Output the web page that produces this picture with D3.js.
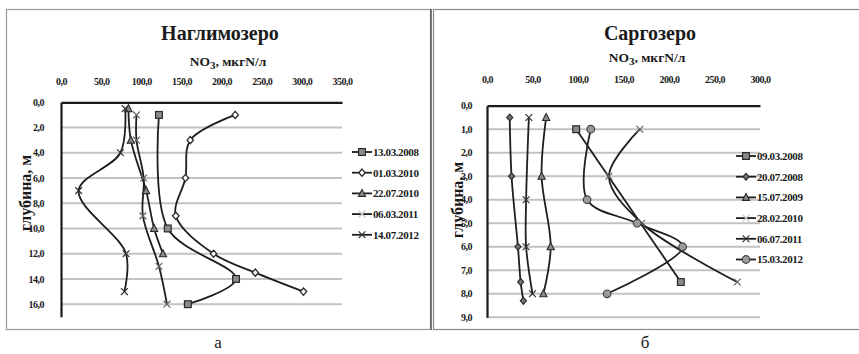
<!DOCTYPE html>
<html>
<head>
<meta charset="utf-8">
<script src="https://cdn.jsdelivr.net/npm/d3@7"></script>
<style>
  body { margin: 0; background: #fff; }
  svg { display: block; }
</style>
</head>
<body>
<svg id="chart" width="859" height="354"></svg>
<script>
// Наглимозеро: depth (m) and NO3 (мкгN/л)
const naglDepth_130308 = [1, 10, 14, 16];
const naglValue_130308 = [122, 133, 218, 158];
const naglDepth_010310 = [1, 3, 6, 9, 12, 13.5, 15];
const naglValue_010310 = [217, 161, 155, 143, 190, 242, 302];
const naglDepth_220710 = [0.5, 3, 7, 10, 12];
const naglValue_220710 = [84, 87, 106, 116, 127];
const naglDepth_060311 = [1, 3, 6, 9, 13, 16];
const naglValue_060311 = [94, 94, 103, 102, 122, 132];
const naglDepth_140712 = [0.5, 4, 7, 12, 15];
const naglValue_140712 = [80, 74, 22, 81, 79];

// Саргозеро
const sargDepth_090308 = [1, 7.5];
const sargValue_090308 = [98, 213];
const sargDepth_200708 = [0.5, 3, 6, 7.5, 8.3];
const sargValue_200708 = [25, 27, 34, 37, 40];
const sargDepth_150709 = [0.5, 3, 6, 8];
const sargValue_150709 = [65, 60, 70, 62];
const sargDepth_280210 = [1, 3, 5, 7.5];
const sargValue_280210 = [168, 134, 170, 275];
const sargDepth_060711 = [0.5, 4, 6, 8];
const sargValue_060711 = [46, 43, 43, 50];
const sargDepth_150312 = [1, 4, 5, 6, 8];
const sargValue_150312 = [114, 110, 165, 215, 132];

const naglXTicks = [0, 50, 100, 150, 200, 250, 300, 350];
const naglYTicks = [0, 2, 4, 6, 8, 10, 12, 14, 16];
const sargXTicks = [0, 50, 100, 150, 200, 250, 300];
const sargYTicks = [0, 1, 2, 3, 4, 5, 6, 7, 8, 9];

const SERIF = "'Liberation Serif', 'Times New Roman', serif";
const zip = (ds, vs) => ds.map((d, i) => ({ depth: d, value: vs[i] }));
const fmt = (v) => d3.format(".1f")(v).replace(".", ",");

const svg = d3.select("#chart");

// panel frames
svg.append("rect").attr("x", 6.5).attr("y", 9.5).attr("width", 424).attr("height", 320)
  .attr("fill", "none").attr("stroke", "#9a9a9a").attr("stroke-width", 1.2);
svg.append("rect").attr("x", 433.5).attr("y", 9.5).attr("width", 440).attr("height", 320)
  .attr("fill", "none").attr("stroke", "#8a8a8a").attr("stroke-width", 1.2);
svg.append("line").attr("x1", 431).attr("x2", 431).attr("y1", 9).attr("y2", 330)
  .attr("stroke", "#555").attr("stroke-width", 1.5);

function drawMarker(g, type, x, y, legend) {
  const s = 3.4;
  if (type === "square") {
    g.append("rect").attr("x", x - s).attr("y", y - s).attr("width", 2 * s).attr("height", 2 * s)
      .attr("fill", "#8a8a8a").attr("stroke", "#2a2a2a").attr("stroke-width", 1.2);
  } else if (type === "diamond") {
    g.append("path").attr("d", `M${x},${y - 3.6}L${x + 3.2},${y}L${x},${y + 3.6}L${x - 3.2},${y}Z`)
      .attr("fill", "#fff").attr("stroke", "#2a2a2a").attr("stroke-width", 1.3);
  } else if (type === "diamondDark") {
    g.append("path").attr("d", `M${x},${y - 3.4}L${x + 3},${y}L${x},${y + 3.4}L${x - 3},${y}Z`)
      .attr("fill", "#777").attr("stroke", "#2a2a2a").attr("stroke-width", 1.2);
  } else if (type === "triangle") {
    g.append("path").attr("d", `M${x},${y - 4}L${x + 3.6},${y + 3}L${x - 3.6},${y + 3}Z`)
      .attr("fill", "#8a8a8a").attr("stroke", "#2a2a2a").attr("stroke-width", 1.1);
  } else if (type === "circle") {
    g.append("circle").attr("cx", x).attr("cy", y).attr("r", 3.8)
      .attr("fill", "#9a9a9a").attr("stroke", "#444").attr("stroke-width", 1.2);
  } else if (type === "x" || type === "xLight") {
    const c = type === "xLight" ? (legend ? "#c8c8c8" : "#666") : "#333";
    g.append("path").attr("d", `M${x - 3.4},${y - 3.4}L${x + 3.4},${y + 3.4}M${x - 3.4},${y + 3.4}L${x + 3.4},${y - 3.4}`)
      .attr("stroke", c).attr("stroke-width", 1.2);
  }
}

function drawPanel(cfg) {
  const x = d3.scaleLinear().domain(cfg.xDomain).range([cfg.left, cfg.right]);
  const y = d3.scaleLinear().domain(cfg.yDomain).range([cfg.top, cfg.bottom]);
  const g = svg.append("g").style("font-family", SERIF).attr("fill", "#1a1a1a");

  // titles
  g.append("text").attr("x", cfg.titleX).attr("y", 40).attr("text-anchor", "middle")
    .style("font-family", SERIF).attr("font-size", 20).attr("font-weight", "bold").text(cfg.title);
  g.append("text").attr("x", cfg.subX).attr("y", cfg.subY).attr("text-anchor", "middle")
    .style("font-family", SERIF).attr("font-size", 13.5).attr("font-weight", "bold")
    .call((t) => {
      t.append("tspan").text("NO");
      t.append("tspan").attr("font-size", 11).attr("dy", 3).text("3");
      t.append("tspan").attr("dy", -3).text(", мкгN/л");
    });

  // gridlines
  g.append("g").selectAll("line").data(cfg.yTicks.filter((d) => d > 0)).join("line")
    .attr("x1", cfg.left).attr("x2", cfg.right)
    .attr("y1", (d) => y(d)).attr("y2", (d) => y(d))
    .attr("stroke", "#c2c2c2").attr("stroke-width", 2);

  // axes
  const xAxis = g.append("g").attr("transform", `translate(0,${cfg.top})`)
    .call(d3.axisTop(x).tickValues(cfg.xTicks).tickFormat(fmt).tickSize(0).tickPadding(cfg.top - cfg.xLabelY));
  const yAxis = g.append("g").attr("transform", `translate(${cfg.left},0)`)
    .call(d3.axisLeft(y).tickValues(cfg.yTicks).tickFormat(fmt).tickSize(0).tickPadding(cfg.left - cfg.yLabelX));
  [xAxis, yAxis].forEach((a) => {
    a.attr("font-family", null).attr("font-size", null);
    a.select(".domain").attr("stroke", "#1a1a1a").attr("stroke-width", 2.2);
    a.selectAll(".tick text")
      .style("font-family", SERIF).attr("font-size", 10).attr("font-weight", "bold")
      .attr("letter-spacing", -0.5).attr("fill", "#1a1a1a");
  });

  // y title
  g.append("text").attr("transform", `translate(${cfg.yTitleX},${cfg.yTitleY}) rotate(-90)`)
    .attr("text-anchor", "middle").attr("dy", "0.35em")
    .style("font-family", SERIF).attr("font-size", 16).attr("font-weight", "bold").text("глубина, м");

  // series
  const line = d3.line().x((d) => x(d.value)).y((d) => y(d.depth)).curve(d3.curveCatmullRom.alpha(0.5));
  cfg.series.forEach((s) => {
    g.append("path").datum(s.data).attr("d", line)
      .attr("fill", "none").attr("stroke", "#1e1e1e").attr("stroke-width", 1.8);
  });
  cfg.series.forEach((s) => {
    const mg = g.append("g");
    s.data.forEach((d) => drawMarker(mg, s.marker, x(d.value), y(d.depth), false));
  });

  // legend
  const lg = g.append("g");
  cfg.series.forEach((s, i) => {
    const ly = cfg.legendY + i * 20.7;
    lg.append("line").attr("x1", cfg.legendX).attr("x2", cfg.legendX + 20)
      .attr("y1", ly).attr("y2", ly).attr("stroke", "#1e1e1e").attr("stroke-width", 1.8);
    drawMarker(lg, s.marker, cfg.legendX + 10, ly, true);
    lg.append("text").attr("x", cfg.legendX + 21).attr("y", ly).attr("dy", "0.35em")
      .style("font-family", SERIF).attr("font-size", 11).attr("font-weight", "bold")
      .attr("letter-spacing", -0.4).text(s.name);
  });

  svg.append("text").attr("x", cfg.captionX).attr("y", 348).attr("text-anchor", "middle")
    .style("font-family", SERIF).attr("font-size", 17).attr("fill", "#1a1a1a").text(cfg.caption);
}

drawPanel({
  title: "Наглимозеро", titleX: 220, subX: 228, subY: 66,
  left: 61, right: 342, top: 102.3, bottom: 316.8,
  xDomain: [0, 350], yDomain: [0, 17],
  xTicks: naglXTicks, yTicks: naglYTicks,
  xLabelY: 85, yLabelX: 44,
  yTitleX: 25, yTitleY: 193,
  legendX: 352, legendY: 152,
  captionX: 218, caption: "а",
  series: [
    { name: "13.03.2008", marker: "square", data: zip(naglDepth_130308, naglValue_130308) },
    { name: "01.03.2010", marker: "diamond", data: zip(naglDepth_010310, naglValue_010310) },
    { name: "22.07.2010", marker: "triangle", data: zip(naglDepth_220710, naglValue_220710) },
    { name: "06.03.2011", marker: "xLight", data: zip(naglDepth_060311, naglValue_060311) },
    { name: "14.07.2012", marker: "x", data: zip(naglDepth_140712, naglValue_140712) }
  ]
});

drawPanel({
  title: "Саргозеро", titleX: 650, subX: 647, subY: 62,
  left: 487, right: 760, top: 105.7, bottom: 317.3,
  xDomain: [0, 300], yDomain: [0, 9],
  xTicks: sargXTicks, yTicks: sargYTicks,
  xLabelY: 83, yLabelX: 472,
  yTitleX: 457, yTitleY: 200,
  legendX: 736, legendY: 156,
  captionX: 645, caption: "б",
  series: [
    { name: "09.03.2008", marker: "square", data: zip(sargDepth_090308, sargValue_090308) },
    { name: "20.07.2008", marker: "diamondDark", data: zip(sargDepth_200708, sargValue_200708) },
    { name: "15.07.2009", marker: "triangle", data: zip(sargDepth_150709, sargValue_150709) },
    { name: "28.02.2010", marker: "xLight", data: zip(sargDepth_280210, sargValue_280210) },
    { name: "06.07.2011", marker: "x", data: zip(sargDepth_060711, sargValue_060711) },
    { name: "15.03.2012", marker: "circle", data: zip(sargDepth_150312, sargValue_150312) }
  ]
});
</script>
</body>
</html>
